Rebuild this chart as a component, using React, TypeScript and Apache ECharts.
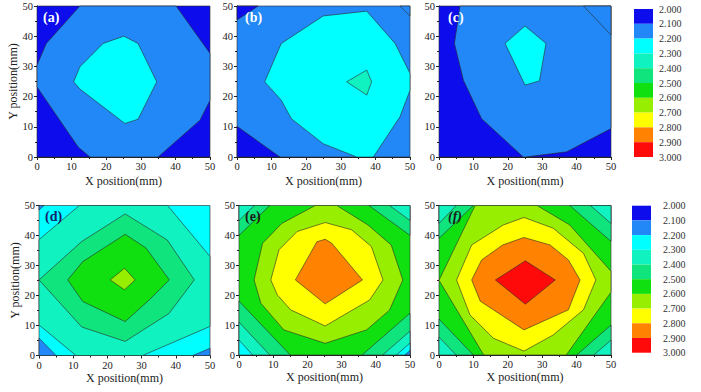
import React, { useEffect, useRef } from 'react';
import * as echarts from 'echarts';

// Colour of each 0.1-wide level band, from 2.0-2.1 up to 2.9-3.0
const levelColors = ['#0c0cec', '#2288f8', '#00ffff', '#10f2c0', '#10e47c', '#10e010', '#98ee00', '#ffff00', '#ff8200', '#ff0a0a'];
const levelBounds = [2.0, 2.1, 2.2, 2.3, 2.4, 2.5, 2.6, 2.7, 2.8, 2.9, 3.0];
const panelLabels = ['(a)', '(b)', '(c)', '(d)', '(e)', '(f)'];

type Poly = { level: number; pts: number[][] };

// Background band of each panel
const panelBackground = [0, 1, 0, 2, 5, 5];

const panelA: Poly[] = [
  { level: 1, pts: [[12.4, 50], [40.2, 50], [50, 34.3], [50, 18.8], [47.1, 12.2], [35, 0], [15.3, 0], [11.9, 3.3], [0, 23.2], [0, 30.4], [2.7, 37.6]] },
  { level: 2, pts: [[10.6, 24.9], [12.4, 29.9], [15.3, 33.2], [19.1, 37.6], [25.1, 40], [29.2, 37.6], [34.6, 24.9], [29.2, 12.5], [25.4, 11.1], [12.4, 22.5]] },
];
const panelB: Poly[] = [
  { level: 0, pts: [[0, 45.4], [0, 50], [6.1, 50]] },
  { level: 0, pts: [[0, 0], [0, 10.2], [12.4, 0]] },
  { level: 1, pts: [[47.1, 50], [50, 50], [50, 46.7]] },
  { level: 2, pts: [[8, 24.9], [12.8, 37.6], [24.9, 46.7], [37.5, 48.3], [45.7, 37.6], [50, 27.7], [50, 22.1], [47.1, 13.3], [39.4, 0], [34.6, 0], [24.9, 4.4], [15.7, 12.7], [12.8, 18.8]] },
  { level: 3, pts: [[31.7, 24.9], [37.5, 28.8], [38.9, 24.9], [37.5, 20.5]] },
];
const panelC: Poly[] = [
  { level: 1, pts: [[6.1, 50], [50, 50], [50, 9.4], [37.1, 1.7], [25, 0], [24.5, 0], [12.4, 12.7], [7.1, 25.4], [4.5, 37.6]] },
  { level: 1, pts: [[42, 50], [50, 50], [50, 40.4]] },
  { level: 2, pts: [[19.2, 37.6], [25, 43.4], [31.1, 37.6], [29.2, 25.2], [25, 23.8]] },
];
const panelD: Poly[] = [
  { level: 1, pts: [[0, 0], [0, 5.8], [5, 0]] },
  { level: 1, pts: [[45, 0], [50, 0], [50, 2.4]] },
  { level: 1, pts: [[0, 50], [1.5, 50], [0, 48.5]] },
  { level: 3, pts: [[0, 38.6], [11.8, 50], [37.6, 50], [50, 33], [50, 9.7], [30.3, 0], [10.8, 0], [0, 10.2]] },
  { level: 4, pts: [[0, 25.2], [12.5, 38], [25.2, 47.2], [37.5, 38.5], [45.4, 25.2], [38, 14], [25.2, 4.7], [12.5, 9.5]] },
  { level: 5, pts: [[8.4, 25.2], [12.8, 31.3], [25.2, 40.4], [31.3, 35.8], [38.1, 25.2], [32.3, 18.6], [25.2, 11.3], [12.8, 18]] },
  { level: 6, pts: [[20.8, 25.2], [25, 29.1], [28.1, 25.2], [25, 21.9]] },
];
const panelE: Poly[] = [
  { level: 4, pts: [[0, 50], [0, 40], [9, 50]] },
  { level: 3, pts: [[0, 50], [0, 45], [4.5, 50]] },
  { level: 4, pts: [[38, 50], [50, 50], [50, 40]] },
  { level: 3, pts: [[44, 50], [50, 50], [50, 45]] },
  { level: 4, pts: [[0, 0], [0, 18], [15, 0]] },
  { level: 3, pts: [[0, 0], [0, 11], [9, 0]] },
  { level: 2, pts: [[0, 0], [0, 5], [4, 0]] },
  { level: 4, pts: [[36, 0], [50, 0], [50, 14]] },
  { level: 3, pts: [[42, 0], [50, 0], [50, 8]] },
  { level: 2, pts: [[46, 0], [50, 0], [50, 4]] },
  { level: 1, pts: [[48.5, 0], [50, 0], [50, 1.5]] },
  { level: 6, pts: [[4.4, 25.1], [6.9, 37.4], [12.5, 44], [22.3, 50], [28.6, 50], [37.7, 43.5], [44.5, 36.8], [47.9, 25.1], [44, 15], [37.3, 8.4], [25.2, 3.9], [13.1, 8.4], [6.4, 17.3]] },
  { level: 7, pts: [[9.3, 25.1], [11.7, 35.2], [17, 41.3], [25.2, 44.3], [32.9, 41.9], [38.7, 36.3], [42.1, 25.1], [38.2, 18.4], [25.2, 9.7], [15.1, 15.1], [11.2, 20.1]] },
  { level: 8, pts: [[16.5, 25.1], [22.8, 37.9], [25.2, 38.7], [27.1, 37.4], [36.1, 25.1], [25.2, 17.1]] },
];
const panelF: Poly[] = [
  { level: 4, pts: [[0, 50], [0, 39], [10, 50]] },
  { level: 3, pts: [[0, 50], [0, 44], [5, 50]] },
  { level: 4, pts: [[38, 50], [50, 50], [50, 38]] },
  { level: 3, pts: [[44, 50], [50, 50], [50, 44]] },
  { level: 4, pts: [[0, 0], [0, 12], [10, 0]] },
  { level: 3, pts: [[0, 0], [0, 6], [5, 0]] },
  { level: 4, pts: [[40, 0], [50, 0], [50, 10]] },
  { level: 3, pts: [[45, 0], [50, 0], [50, 5]] },
  { level: 6, pts: [[0, 25], [10.5, 50], [28.5, 50], [38, 43.5], [50, 28], [50, 21], [37, 0], [13, 0]] },
  { level: 7, pts: [[5.1, 25.1], [9.5, 36.8], [18.7, 43.5], [24.7, 46], [33.2, 42.4], [42, 34], [45.6, 25.1], [42, 15.1], [33.2, 6.7], [24.7, 1.3], [15.8, 5.6], [9, 13.4]] },
  { level: 8, pts: [[9.5, 25.1], [12.4, 31.8], [18.5, 36.8], [24.7, 39.3], [32.3, 36.8], [37.6, 31.8], [41, 25.1], [37.6, 15.1], [24.7, 8.4], [12, 18]] },
  { level: 9, pts: [[16.4, 25.1], [25.1, 31.5], [33.8, 25.1], [25.1, 17]] },
];

const panels = [panelA, panelB, panelC, panelD, panelE, panelF];

const FONT = '"Liberation Serif", "Times New Roman", serif';
const AXIS_COLOR = '#222';
const LINE_COLOR = '#2a2a2a';

const panelGrids = [
  { left: 37, top: 6, width: 173, height: 151 },
  { left: 237, top: 6, width: 173, height: 151 },
  { left: 439, top: 6, width: 172, height: 151 },
  { left: 39, top: 205.5, width: 171, height: 150 },
  { left: 239, top: 205.5, width: 171, height: 149.5 },
  { left: 439, top: 205.5, width: 172, height: 149.5 },
];
const colorbarGrids = [
  { left: 634, top: 9, width: 19, height: 148 },
  { left: 632, top: 205.7, width: 19, height: 147 },
];
const labelPos = [
  [43, 10], [245, 10], [448, 10], [45, 209], [245, 209], [448, 209],
];
const labelColors = ['#ffffff', '#ffffff', '#ffffff', '#16206a', '#1a1a1a', '#1a1a1a'];

export default function App() {
  const ref = useRef<HTMLDivElement>(null);
  useEffect(() => {
    if (!ref.current) return;
    const chart = echarts.init(ref.current, undefined, { renderer: 'svg' });

    const grid: any[] = [];
    const xAxis: any[] = [];
    const yAxis: any[] = [];
    const series: any[] = [];

    panels.forEach((polys, i) => {
      grid.push({ ...panelGrids[i], containLabel: false });
      const bottomRow = i >= 3;
      xAxis.push({
        type: 'value', gridIndex: i, min: 0, max: 50, interval: 10,
        axisLine: { show: true, lineStyle: { color: AXIS_COLOR, width: 1 } },
        axisTick: { show: true, length: 3, lineStyle: { color: AXIS_COLOR } },
        minorTick: { show: true, splitNumber: 2, length: 2, lineStyle: { color: AXIS_COLOR } },
        axisLabel: { fontSize: 10.5, color: AXIS_COLOR, fontFamily: FONT, margin: 4 },
        splitLine: { show: false },
        name: 'X position(mm)', nameLocation: 'middle', nameGap: bottomRow ? 16 : 18,
        nameTextStyle: { fontSize: 12, color: AXIS_COLOR, fontFamily: FONT },
      });
      yAxis.push({
        type: 'value', gridIndex: i, min: 0, max: 50, interval: 10,
        axisLine: { show: true, lineStyle: { color: AXIS_COLOR, width: 1 } },
        axisTick: { show: true, length: 3, lineStyle: { color: AXIS_COLOR } },
        minorTick: { show: true, splitNumber: 2, length: 2, lineStyle: { color: AXIS_COLOR } },
        axisLabel: { fontSize: 10.5, color: AXIS_COLOR, fontFamily: FONT, margin: 4 },
        splitLine: { show: false },
        name: i % 3 === 0 ? 'Y position(mm)' : '', nameLocation: 'middle', nameGap: 14, nameRotate: 90,
        nameTextStyle: { fontSize: 12, color: AXIS_COLOR, fontFamily: FONT },
      });
      const items: Poly[] = [
        { level: panelBackground[i], pts: [[0, 0], [50, 0], [50, 50], [0, 50]] },
        ...polys,
      ];
      series.push({
        type: 'custom', xAxisIndex: i, yAxisIndex: i, clip: false, silent: true,
        z: 1,
        data: items.map(() => [25, 25]),
        renderItem: (params: any, api: any) => {
          const p = items[params.dataIndex];
          const points = p.pts.map((pt) => api.coord(pt));
          return {
            type: 'polygon',
            shape: { points },
            style: { fill: levelColors[p.level], stroke: LINE_COLOR, lineWidth: 0.6 },
          };
        },
      });
    });

    colorbarGrids.forEach((g, k) => {
      const gi = 6 + k;
      grid.push({ ...g });
      xAxis.push({ type: 'value', gridIndex: gi, min: 0, max: 1, show: false });
      yAxis.push({
        type: 'value', gridIndex: gi, min: 2, max: 3, interval: 0.1, inverse: true, position: 'right',
        axisLine: { show: false }, axisTick: { show: false }, splitLine: { show: false },
        axisLabel: {
          fontSize: 10, color: '#333', fontFamily: FONT, margin: k === 0 ? 6 : 12,
          formatter: (v: number) => v.toFixed(3),
          padding: k === 0 ? [3, 0, 0, 0] : [0, 0, 7, 0],
        },
      });
      const bands = levelColors.map((c, j) => [levelBounds[j], levelBounds[j + 1], j]);
      series.push({
        type: 'custom', xAxisIndex: gi, yAxisIndex: gi, silent: true,
        data: bands.map((b) => [0.5, b[0]]),
        renderItem: (params: any, api: any) => {
          const b = bands[params.dataIndex];
          const p0 = api.coord([0, b[0]]);
          const p1 = api.coord([1, b[1]]);
          return {
            type: 'rect',
            shape: { x: p0[0], y: Math.min(p0[1], p1[1]), width: p1[0] - p0[0], height: Math.abs(p1[1] - p0[1]) },
            style: { fill: levelColors[b[2]] },
          };
        },
      });
    });

    const graphic = panelLabels.map((t, i) => ({
      type: 'text', left: labelPos[i][0], top: labelPos[i][1], z: 100,
      style: { text: t, fill: labelColors[i], font: `${i === 5 ? 'italic ' : ''}bold 14px ${FONT}` },
    }));

    chart.setOption({
      animation: false,
      backgroundColor: '#ffffff',
      textStyle: { fontFamily: FONT },
      grid, xAxis, yAxis, series, graphic,
    });
    return () => chart.dispose();
  }, []);
  return <div ref={ref} style={{ position: 'fixed', left: 0, top: 0, width: 701, height: 392 }} />;
}
